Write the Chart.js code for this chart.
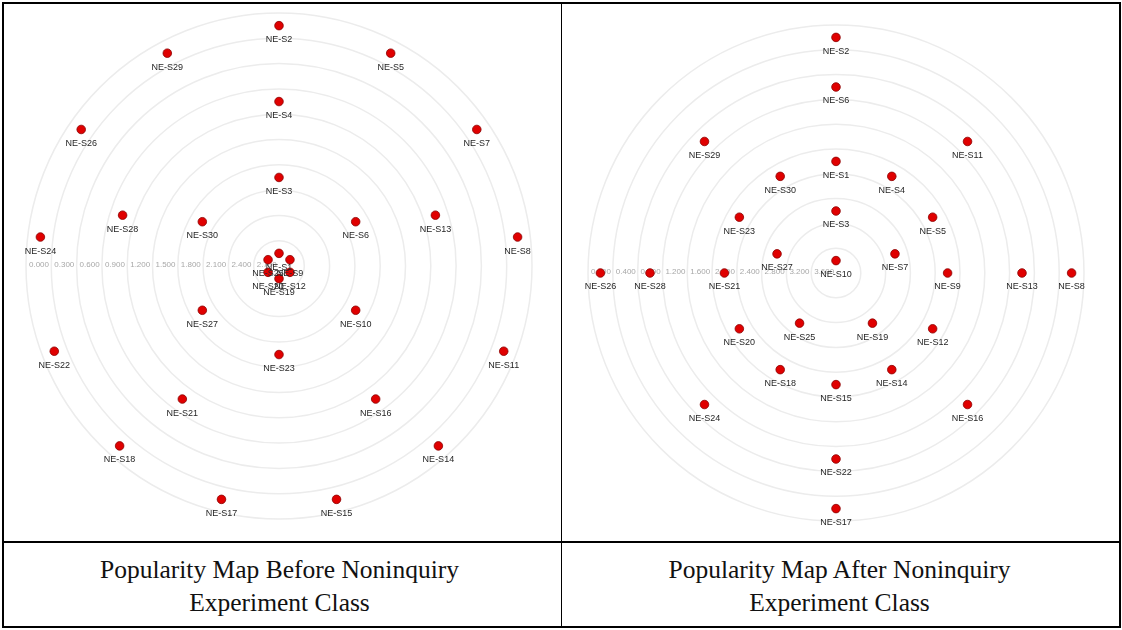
<!DOCTYPE html>
<html>
<head>
<meta charset="utf-8">
<title>Popularity Map - Noninquiry Experiment Class</title>
<script src="https://cdn.jsdelivr.net/npm/chart.js@4.4.0/dist/chart.umd.min.js"></script>
<style>
  html, body { margin: 0; padding: 0; background: #fff; }
  #page { position: relative; width: 1122px; height: 630px; overflow: hidden; }
  .box { position: absolute; }
  .rule { position: absolute; background: #000; z-index: 5; }
  .caption {
    position: absolute; top: 553px; width: 559px; text-align: center;
    font-family: "Liberation Serif", "Times New Roman", serif;
    font-size: 25.5px; line-height: 33px; color: #111;
  }
</style>
</head>
<body>
<div id="page">
  <div class="box" style="left:6px; top:-7px; width:546px; height:546px;"><canvas id="chartBefore"></canvas></div>
  <div class="box" style="left:568px; top:5px; width:536px; height:536px;"><canvas id="chartAfter"></canvas></div>

  <!-- table lines -->
  <div class="rule" style="left:2px; top:2px; width:1119px; height:2px;"></div>
  <div class="rule" style="left:2px; top:626px; width:1119px; height:2px;"></div>
  <div class="rule" style="left:2px; top:2px; width:2px; height:626px;"></div>
  <div class="rule" style="left:1119px; top:2px; width:2px; height:626px;"></div>
  <div class="rule" style="left:561px; top:2px; width:1px; height:626px;"></div>
  <div class="rule" style="left:2px; top:541px; width:1119px; height:2px;"></div>

  <div class="caption" style="left:0px;">Popularity Map Before Noninquiry<br>Experiment Class</div>
  <div class="caption" style="left:560px;">Popularity Map After Noninquiry<br>Experiment Class</div>
</div>

<script>
// === DATA ===
const students = [
  "NE-S1", "NE-S2", "NE-S3", "NE-S4", "NE-S5", "NE-S6", "NE-S7", "NE-S8", "NE-S9", "NE-S10",
  "NE-S11", "NE-S12", "NE-S13", "NE-S14", "NE-S15", "NE-S16", "NE-S17", "NE-S18", "NE-S19", "NE-S20",
  "NE-S21", "NE-S22", "NE-S23", "NE-S24", "NE-S25", "NE-S26", "NE-S27", "NE-S28", "NE-S29", "NE-S30",
];

// popularity index (higher = closer to the centre)
const beforeScores = [
  2.85, 0.15, 1.95, 1.05, 0.15, 1.95, 0.15, 0.15, 2.85, 1.95,
  0.15, 2.85, 1.05, 0.15, 0.15, 1.05, 0.15, 0.15, 2.85, 2.85,
  1.05, 0.15, 1.95, 0.15, 2.85, 0.15, 1.95, 1.05, 0.15, 1.95,
];
const afterScores = [
  2.2, 0.2, 3.0, 2.2, 2.2, 1.0, 3.0, 0.2, 2.2, 3.8,
  1.0, 2.2, 1.0, 2.2, 2.2, 1.0, 0.2, 2.2, 3.0, 2.2,
  2.2, 1.0, 2.2, 1.0, 3.0, 0.2, 3.0, 1.0, 1.0, 2.2,
];

const beforeTicks = ["0.000", "0.300", "0.600", "0.900", "1.200", "1.500", "1.800", "2.100", "2.400", "2.700"];
const afterTicks = ["0.000", "0.400", "0.800", "1.200", "1.600", "2.000", "2.400", "2.800", "3.200", "3.600"];
const beforeMax = 3.0;
const afterMax = 4.0;

// === HELPERS ===
function gcd(a, b) {
  return b ? gcd(b, a % b) : a;
}

// students with the same score share a ring and are spread evenly round it
function buildData(scores) {
  const levels = [...new Set(scores)].sort((a, b) => a - b);
  const groups = levels.map((v) => students.filter((s, i) => scores[i] === v));
  const slots = groups.reduce((acc, g) => (acc * g.length) / gcd(acc, g.length), 1);

  const datasets = groups.map((group, gi) => {
    const data = new Array(slots).fill(null);
    const names = new Array(slots).fill(null);
    const gap = slots / group.length;
    group.forEach((name, j) => {
      data[j * gap] = levels[gi];
      names[j * gap] = name;
    });
    return {
      data,
      names,
      showLine: false,
      fill: false,
      clip: false,
      borderWidth: 0,
      pointRadius: 4.3,
      pointHoverRadius: 4.3,
      pointBackgroundColor: "#e00000",
      pointBorderColor: "#8a0000",
      pointBorderWidth: 0.8,
    };
  });

  return { labels: new Array(slots).fill(""), datasets };
}

// tick labels run along the left horizontal radius
function ringLabels(tickLabels) {
  return {
    id: "ringLabels",
    beforeDatasetsDraw(chart) {
      const s = chart.scales.r;
      const ctx = chart.ctx;
      ctx.save();
      ctx.font = '8px "Liberation Sans", Arial, sans-serif';
      ctx.fillStyle = "#a8a8a8";
      ctx.textAlign = "left";
      ctx.textBaseline = "middle";
      tickLabels.forEach((t) => {
        const d = s.getDistanceFromCenterForValue(parseFloat(t));
        ctx.fillText(t, s.xCenter - d + 3, s.yCenter - 1);
      });
      ctx.restore();
    },
  };
}

const nameLabels = {
  id: "nameLabels",
  afterDatasetsDraw(chart) {
    const ctx = chart.ctx;
    ctx.save();
    ctx.font = '9px "Liberation Sans", Arial, sans-serif';
    ctx.fillStyle = "#262626";
    ctx.textAlign = "center";
    ctx.textBaseline = "middle";
    chart.data.datasets.forEach((ds, i) => {
      chart.getDatasetMeta(i).data.forEach((pt, j) => {
        if (ds.names[j]) ctx.fillText(ds.names[j], pt.x, pt.y + 14);
      });
    });
    ctx.restore();
  },
};

function makeMap(canvasId, scores, tickLabels, maxVal) {
  const tickValues = tickLabels.map((t) => parseFloat(t));
  return new Chart(document.getElementById(canvasId), {
    type: "radar",
    data: buildData(scores),
    options: {
      responsive: true,
      maintainAspectRatio: false,
      animation: false,
      layout: { padding: 20 },
      plugins: { legend: { display: false }, tooltip: { enabled: false } },
      scales: {
        r: {
          min: 0,
          max: maxVal,
          reverse: true,
          ticks: { display: false, stepSize: tickValues[1] },
          // max first so the outer 0 ring is not the skipped index 0
          afterBuildTicks: (scale) => {
            scale.ticks = [{ value: maxVal }].concat(tickValues.map((v) => ({ value: v })));
          },
          grid: { circular: true, color: "#ececec", lineWidth: 1.5 },
          angleLines: { display: false },
          pointLabels: { display: false },
        },
      },
    },
    plugins: [ringLabels(tickLabels), nameLabels],
  });
}

makeMap("chartBefore", beforeScores, beforeTicks, beforeMax);
makeMap("chartAfter", afterScores, afterTicks, afterMax);
</script>
</body>
</html>
